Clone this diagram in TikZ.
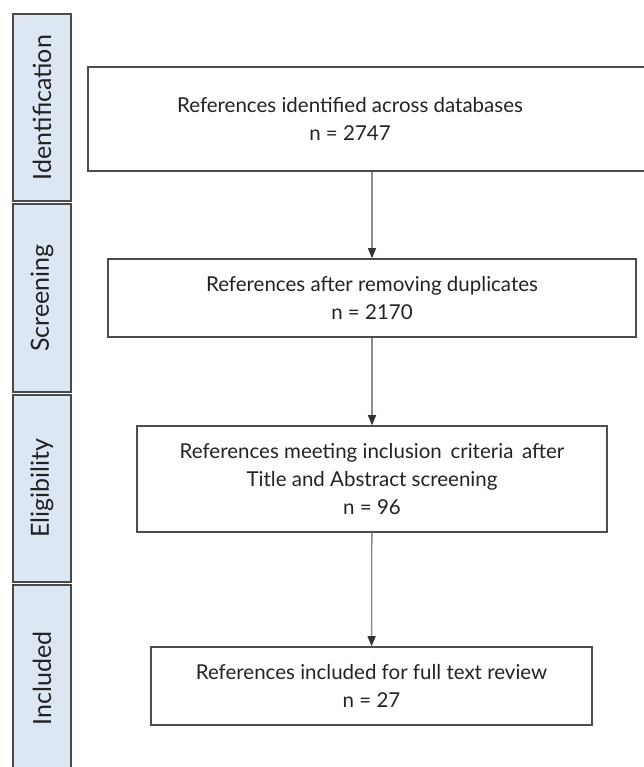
\documentclass[tikz,border=0pt]{standalone}
\usepackage{fontspec}
\setmainfont{Lato}
\usetikzlibrary{positioning, arrows.meta}
\definecolor{mline}{HTML}{4D4D4D}
\definecolor{marrow}{HTML}{8C8C8C}
\definecolor{mstage}{HTML}{DCE7F3}
\definecolor{mframe}{HTML}{4A4A4E}
\definecolor{mtext}{HTML}{222222}
\tikzstyle{stage} = [rectangle, draw = mframe, line width = 2.4pt, fill = mstage, minimum height = 58pt, text = mtext, text centered, rotate = 90, font = \fontsize{25}{30}\selectfont]
\tikzstyle{refbox} = [rectangle, draw = mline, line width = 1.6pt, text = mtext, align = center, font = \fontsize{20.5}{28}\selectfont]
\tikzstyle{flow} = [draw = marrow, line width = 1.3pt, -{Triangle[length = 10pt, width = 8pt, color = black!80]}]

\begin{document}
\begin{tikzpicture}[x = 1pt, y = -1pt]
  \useasboundingbox (0,0) rectangle (644,767);
  % stages on the left
  \node (ident) [stage, minimum width = 187pt] at (42,107.5) {Identification};
  \node (screen) [stage, minimum width = 188pt] at (42,298) {Screening};
  \node (elig) [stage, minimum width = 187pt] at (42,488.5) {Eligibility};
  \node (incl) [stage, minimum width = 187pt] at (42,678.5) {Included};
  % flow boxes
  \node (found) [refbox, minimum width = 562pt, minimum height = 104pt] at (369,119) {};
  \node (foundtxt) [refbox, draw = none] at (350,119) {References identified across databases\\n = 2747};
  \node (nodup) [refbox, minimum width = 528pt, minimum height = 78pt] at (372,298) {References after removing duplicates\\n = 2170};
  \node (meet) [refbox, minimum width = 470pt, minimum height = 106pt] at (372,479) {References meeting inclusion\, criteria\, after\\Title and Abstract screening\\n = 96};
  \node (full) [refbox, minimum width = 441pt, minimum height = 78pt] at (371.5,686) {References included for full text review\\n = 27};
  \draw [flow] (found.south -| nodup) -- (nodup);
  \draw [flow] (nodup) -- (meet);
  \draw [flow] (meet) -- (full);
\end{tikzpicture}
\end{document}
